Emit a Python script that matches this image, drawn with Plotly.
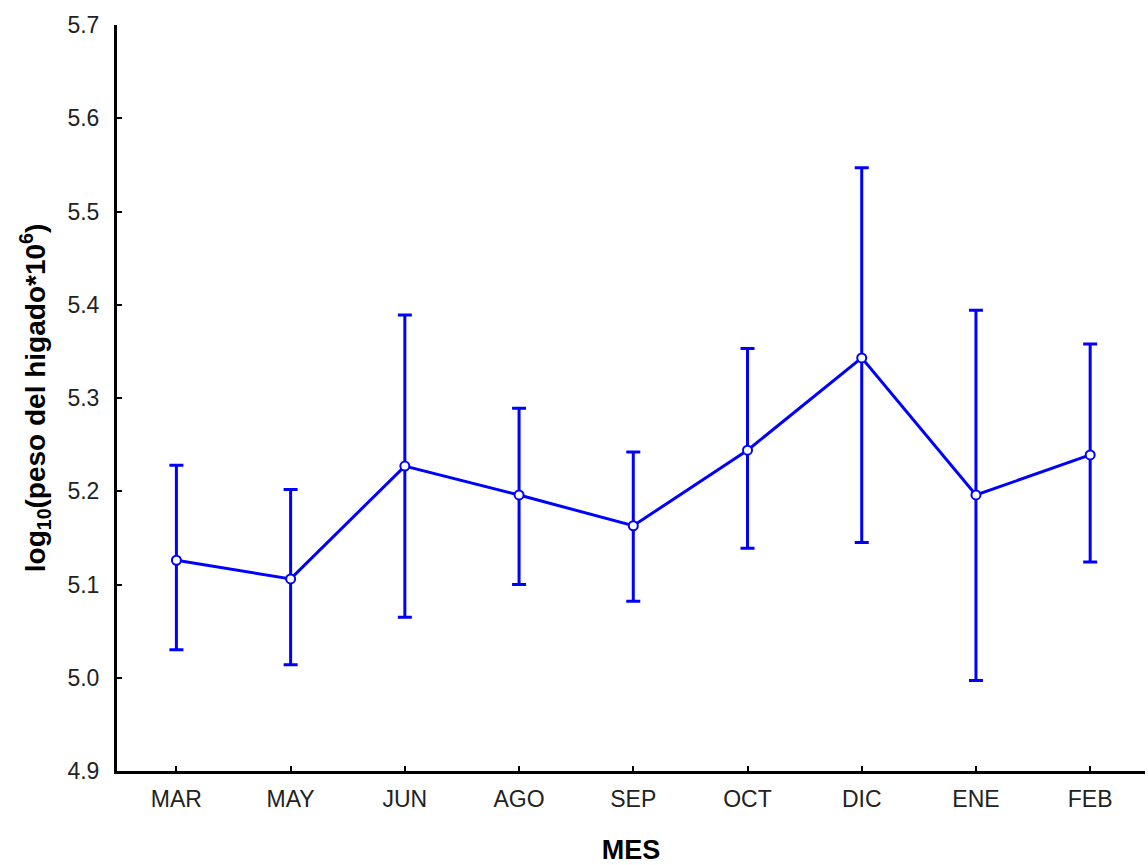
import plotly.graph_objects as go

# Monthly means of log10 liver weight with their confidence limits
months = ["MAR", "MAY", "JUN", "AGO", "SEP", "OCT", "DIC", "ENE", "FEB"]
mean_log = [5.126, 5.106, 5.227, 5.196, 5.163, 5.244, 5.343, 5.196, 5.239]
upper_lim = [5.228, 5.202, 5.389, 5.289, 5.242, 5.353, 5.547, 5.394, 5.358]
lower_lim = [5.030, 5.014, 5.065, 5.100, 5.082, 5.139, 5.145, 4.997, 5.124]

y_ticks = [4.9, 5.0, 5.1, 5.2, 5.3, 5.4, 5.5, 5.6, 5.7]

err_plus = [u - m for u, m in zip(upper_lim, mean_log)]
err_minus = [m - l for m, l in zip(mean_log, lower_lim)]

blue = "#0000FF"
font_family = "Liberation Sans, Arial, sans-serif"

fig = go.Figure()
fig.add_trace(go.Scatter(
    x=months,
    y=mean_log,
    mode="lines+markers",
    line=dict(color=blue, width=3),
    marker=dict(symbol="circle", size=9, color="white",
                line=dict(color=blue, width=2)),
    error_y=dict(type="data", symmetric=False, array=err_plus,
                 arrayminus=err_minus, color=blue, thickness=3, width=7),
    showlegend=False,
))

fig.update_layout(
    width=1148,
    height=865,
    margin=dict(l=117, r=3, t=25, b=94),
    paper_bgcolor="white",
    plot_bgcolor="white",
    font=dict(family=font_family, color="#222222", size=23),
    xaxis=dict(
        type="category",
        range=[-0.52, 8.48],
        showline=True, linecolor="black", linewidth=3,
        ticks="inside", ticklen=5, tickwidth=2, tickcolor="black",
        showgrid=False, zeroline=False,
        tickfont=dict(size=23, color="#222222"),
        ticklabelstandoff=5,
        automargin=False,
        title=dict(text="<b>MES</b>", font=dict(size=27, color="black"),
                   standoff=32),
    ),
    yaxis=dict(
        range=[4.9, 5.7],
        tickvals=y_ticks,
        ticktext=[f"{v:.1f}" for v in y_ticks],
        showline=True, linecolor="black", linewidth=3,
        ticks="inside", ticklen=5, tickwidth=2, tickcolor="black",
        showgrid=False, zeroline=False,
        tickfont=dict(size=23, color="#222222"),
        ticklabelstandoff=10,
        automargin=False,
        title=dict(text="<b>log<sub>10</sub>(peso del higado*10<sup>6</sup>)</b>",
                   font=dict(size=28, color="black"), standoff=14),
    ),
)

fig.write_html("out.html")
